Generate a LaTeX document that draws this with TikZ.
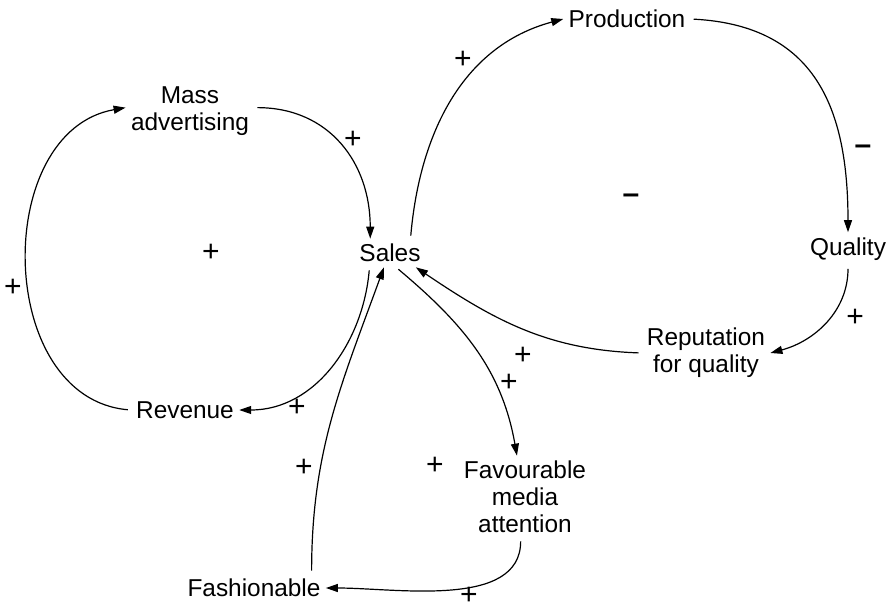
\documentclass[tikz,border=0pt]{standalone}
\usepackage{fontspec}
\setmainfont{Liberation Sans}
\usetikzlibrary{arrows.meta}
\tikzset{
    factor/.style = {inner sep=2.5pt, align=center, font=\fontsize{12.2}{13.5}\selectfont},
    sign/.style = {inner sep=0pt, font=\fontsize{15}{16}\selectfont},
    link/.style = {-{Triangle[length=6pt,width=4pt]}, line width=0.6pt, shorten <=1.5pt},
}

\begin{document}
\begin{tikzpicture}[x=0.5pt, y=-0.5pt]
\useasboundingbox (0,0) rectangle (894,609);
\node[factor] (mass) at (190,111) {Mass\\advertising};
\node[factor] (sales) at (390,253) {Sales};
\node[factor] (production) at (627,19) {Production};
\node[factor] (quality) at (848,249) {Quality};
\node[factor] (reputation) at (706,353) {Reputation\\for quality};
\node[factor] (revenue) at (185,410) {Revenue};
\node[factor] (media) at (525,497) {Favourable\\media\\attention};
\node[factor] (fashionable) at (254,588) {Fashionable};

\draw[link] (mass.3) to[out=0, in=90, looseness=1.1] (sales.144);
\draw[link] (revenue.west) to[out=175, in=190, looseness=1.15] (mass.177);
\draw[link] (sales.215) to[out=-95, in=0] (revenue.east);
\draw[link] (fashionable.14) to[out=90, in=250] (sales.247);
\draw[link] (sales.293) to[out=-40, in=100] (media.101);
\draw[link] (media.264) to[out=-90, in=0, looseness=0.9] (fashionable.east);
\draw[link] (reputation.west) to[out=178, in=-34] (sales.331);
\draw[link] (quality.south) to[out=-90, in=15] (reputation.east);
\draw[link] (production.east) to[out=-3, in=90, looseness=1.2] (quality.north);
\draw[link] (sales.35) to[out=85, in=195] (production.west);

\node[sign] (s-mass-sales) at (353,140) {+};
\node[sign] (s-loop-left) at (211,253) {+};
\node[sign] (s-rev-mass) at (13,288) {+};
\node[sign] (s-sales-rev) at (297,408) {+};
\node[sign] (s-sales-prod) at (463,60) {+};
\node[sign] (s-prod-qual) at (863,150) {\bfseries –};
\node[sign] (s-loop-right) at (631,199) {\bfseries –};
\node[sign] (s-qual-rep) at (855,318) {+};
\node[sign] (s-rep-sales) at (523,356) {+};
\node[sign] (s-sales-media) at (509,383) {+};
\node[sign] (s-loop-bottom) at (435,466) {+};
\node[sign] (s-fash-sales) at (304,468) {+};
\node[sign] (s-media-fash) at (469,596) {+};
\end{tikzpicture}
\end{document}
